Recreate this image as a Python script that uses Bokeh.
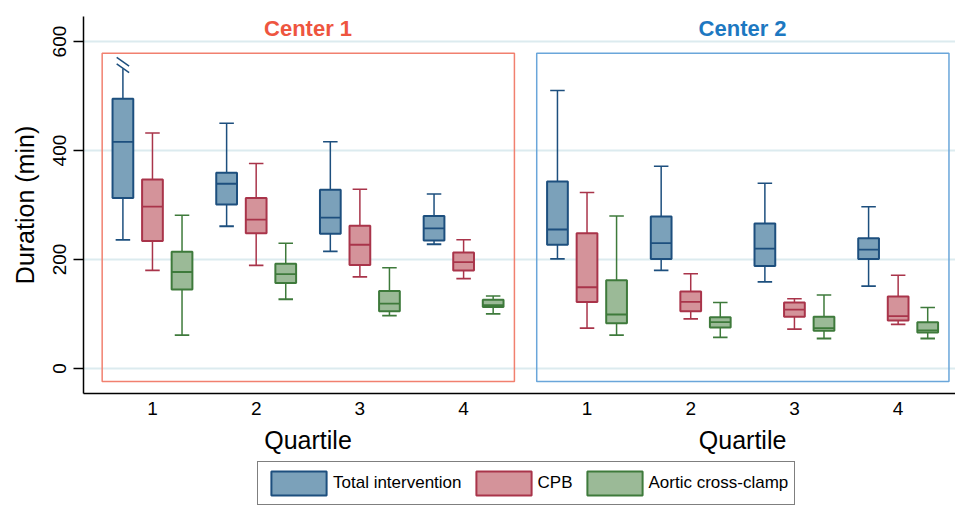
from bokeh.plotting import figure
from bokeh.layouts import column
from bokeh.models import (ColumnDataSource, FixedTicker, CustomJSTickFormatter, Label,
                          Legend, LegendItem, Range1d)
from bokeh.embed import file_html
from bokeh.resources import INLINE
from bokeh.core.properties import value

FONT = "Liberation Sans"

centers = ["Center 1", "Center 2"]
quartile_labels = ["1", "2", "3", "4"]
x_title = "Quartile"
y_title = "Duration (min)"
series_names = ["Total intervention", "CPB", "Aortic cross-clamp"]

# order: Center 1 Q1..Q4, Center 2 Q1..Q4
total_lo = [236, 261, 215, 228, 201, 180, 159, 151]
total_q1 = [313, 301, 247, 235, 227, 201, 188, 201]
total_med = [416, 339, 277, 257, 255, 230, 220, 218]
total_q3 = [495, 359, 328, 280, 343, 279, 266, 239]
total_hi = [550, 450, 416, 320, 510, 371, 340, 297]
total_broken = [True, False, False, False, False, False, False, False]

cpb_lo = [180, 189, 168, 165, 74, 91, 72, 81]
cpb_q1 = [234, 248, 190, 180, 122, 105, 95, 88]
cpb_med = [297, 273, 227, 195, 149, 122, 108, 96]
cpb_q3 = [347, 313, 262, 213, 248, 141, 121, 132]
cpb_hi = [432, 376, 329, 236, 323, 174, 128, 171]

clamp_lo = [61, 127, 97, 100, 61, 57, 55, 55]
clamp_q1 = [145, 157, 105, 113, 83, 75, 69, 66]
clamp_med = [177, 173, 119, 116, 99, 85, 74, 70]
clamp_q3 = [214, 192, 142, 126, 162, 94, 95, 85]
clamp_hi = [281, 230, 185, 133, 280, 121, 135, 112]

y_ticks = [0, 200, 400, 600]

# layout constants
CENTER_GAP = 4.19
base_pos = [i + 1 for i in range(4)] + [i + 1 + CENTER_GAP for i in range(4)]
offsets = [-0.285, 0.0, 0.285]
BOX_W = 0.2
CAP_W = 0.14

fills = ["#7BA1BA", "#D4939A", "#9BBA97"]
lines = ["#1D4F7E", "#A9344A", "#3E7A3B"]
center_colors = ["#F1806F", "#6AA6DA"]
title_colors = ["#EE553F", "#1D78C1"]

LEFT = 83
FRAME_W = 872
TOP = 16
FRAME_H = 377
BOTTOM = 30
LOWER_H = 505 - (TOP + FRAME_H + BOTTOM)

xr = Range1d(0.335, 8.743)

p = figure(frame_width=FRAME_W, frame_height=FRAME_H,
           x_range=xr, y_range=Range1d(-46, 646),
           output_backend="svg", toolbar_location=None,
           min_border_left=LEFT, min_border_right=0, min_border_top=TOP,
           min_border_bottom=BOTTOM)
p.outline_line_color = None
p.background_fill_color = "white"
p.border_fill_color = "white"

# grid
p.xgrid.visible = False
p.ygrid.ticker = FixedTicker(ticks=y_ticks)
p.ygrid.grid_line_color = "#DCEBEF"
p.ygrid.grid_line_width = 2

# y axis
p.yaxis.ticker = FixedTicker(ticks=y_ticks)
p.yaxis.major_label_orientation = "vertical"
p.yaxis.major_tick_out = 10
p.yaxis.major_tick_in = 0
p.yaxis.minor_tick_line_color = None
p.yaxis.axis_label = y_title
p.yaxis.axis_label_text_font = FONT
p.yaxis.axis_label_text_font_size = "25px"
p.yaxis.axis_label_text_font_style = "normal"
p.yaxis.axis_label_text_color = "black"
p.yaxis.axis_label_standoff = 12
p.yaxis.major_label_text_font = FONT
p.yaxis.major_label_text_font_size = "19px"
p.yaxis.major_label_text_color = "black"
p.yaxis.major_label_standoff = 7
p.yaxis.axis_line_color = "black"
p.yaxis.axis_line_width = 1.5
p.yaxis.major_tick_line_color = "black"
p.yaxis.major_tick_line_width = 1.5

# x axis
p.xaxis.ticker = FixedTicker(ticks=base_pos)
p.xaxis.formatter = CustomJSTickFormatter(args=dict(labels=quartile_labels),
                                          code="return labels[index % labels.length];")
p.xaxis.major_tick_out = 0
p.xaxis.major_tick_in = 0
p.xaxis.minor_tick_line_color = None
p.xaxis.major_label_text_font = FONT
p.xaxis.major_label_text_font_size = "19px"
p.xaxis.major_label_text_color = "black"
p.xaxis.major_label_standoff = 8
p.xaxis.axis_line_color = "black"
p.xaxis.axis_line_width = 1.5

# center frames and titles
for c in range(2):
    first = base_pos[c * 4]
    last = base_pos[c * 4 + 3]
    p.quad(left=[first - 0.485], right=[last + 0.49], top=[578.5], bottom=[-24],
           fill_color=None, line_color=center_colors[c], line_width=1.5)
    p.add_layout(Label(x=(first + last) / 2, y=624, text=centers[c],
                       text_align="center", text_baseline="middle",
                       text_font=FONT, text_font_size="22px", text_font_style="bold",
                       text_color=title_colors[c]))

data = [
    (total_lo, total_q1, total_med, total_q3, total_hi),
    (cpb_lo, cpb_q1, cpb_med, cpb_q3, cpb_hi),
    (clamp_lo, clamp_q1, clamp_med, clamp_q3, clamp_hi),
]

for s, (lo, q1, med, q3, hi) in enumerate(data):
    xs = [b + offsets[s] for b in base_pos]
    src = ColumnDataSource(dict(
        x=xs, lo=lo, q1=q1, med=med, q3=q3, hi=hi,
        l=[x - BOX_W / 2 for x in xs], r=[x + BOX_W / 2 for x in xs],
        cl=[x - CAP_W / 2 for x in xs], cr=[x + CAP_W / 2 for x in xs],
    ))
    # whiskers
    p.segment(x0="x", y0="q3", x1="x", y1="hi", source=src, line_color=lines[s], line_width=1.5)
    p.segment(x0="x", y0="lo", x1="x", y1="q1", source=src, line_color=lines[s], line_width=1.5)
    # caps (broken upper whiskers get break marks instead of a cap)
    if s == 0:
        cap_idx = [i for i in range(8) if not total_broken[i]]
        cap_src = ColumnDataSource(dict(
            cl=[xs[i] - CAP_W / 2 for i in cap_idx], cr=[xs[i] + CAP_W / 2 for i in cap_idx],
            hi=[hi[i] for i in cap_idx]))
        p.segment(x0="cl", y0="hi", x1="cr", y1="hi", source=cap_src,
                  line_color=lines[s], line_width=1.5)
        for i in range(8):
            if total_broken[i]:
                for dy in (13, 1):
                    p.segment(x0=[xs[i] - 0.06], y0=[hi[i] + dy + 8], x1=[xs[i] + 0.06],
                              y1=[hi[i] + dy - 8], line_color=lines[s], line_width=1.5)
    else:
        p.segment(x0="cl", y0="hi", x1="cr", y1="hi", source=src, line_color=lines[s], line_width=1.5)
    p.segment(x0="cl", y0="lo", x1="cr", y1="lo", source=src, line_color=lines[s], line_width=1.8)
    # boxes
    p.quad(left="l", right="r", top="q3", bottom="q1", source=src,
           fill_color=fills[s], line_color=lines[s], line_width=2)
    p.segment(x0="l", y0="med", x1="r", y1="med", source=src, line_color=lines[s], line_width=1.8)

# lower strip: x titles and legend (y in page pixels, reversed range)
page_bottom = TOP + FRAME_H + BOTTOM + LOWER_H
p2 = figure(frame_width=FRAME_W, frame_height=LOWER_H,
            x_range=xr, y_range=Range1d(page_bottom, page_bottom - LOWER_H),
            x_axis_type=None, y_axis_type=None,
            output_backend="svg", toolbar_location=None,
            min_border_left=LEFT, min_border_right=0, min_border_top=0, min_border_bottom=0)
p2.outline_line_color = None
p2.background_fill_color = "white"
p2.border_fill_color = "white"

mids = [(base_pos[c * 4] + base_pos[c * 4 + 3]) / 2 for c in range(2)]
p2.text(x=mids, y=[439, 439], text=[x_title, x_title],
        text_align="center", text_baseline="middle",
        text_font=value(FONT), text_font_size="25px", text_color="black")

# legend keys: one off-screen swatch glyph per series (outside the strip's range)
legend_items = []
for s in range(3):
    r = p2.quad(left=[0], right=[0.1], top=[-10], bottom=[-20],
                fill_color=fills[s], line_color=lines[s], line_width=2)
    legend_items.append(LegendItem(label=series_names[s], renderers=[r]))

legend = Legend(items=legend_items, orientation="horizontal", location=(174, 0),
                label_text_font=FONT, label_text_font_size="17px", label_text_color="black",
                glyph_width=69, glyph_height=30, label_standoff=0, spacing=7,
                padding=6, margin=0, border_line_color="black", border_line_width=1.2,
                background_fill_color="white")
p2.add_layout(legend, "center")

layout = column(p, p2, spacing=0)
open("out.html", "w").write(file_html(layout, INLINE))
